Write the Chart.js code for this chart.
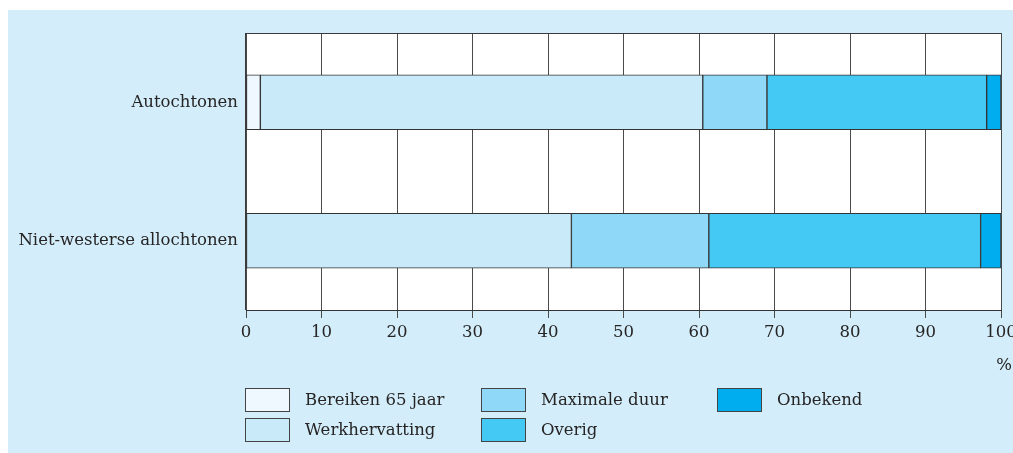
<!DOCTYPE html>
<html>
<head>
<meta charset="utf-8">
<script src="https://cdn.jsdelivr.net/npm/chart.js@4/dist/chart.umd.min.js"></script>
<style>
    html, body { margin: 0; padding: 0; background: #fff; }
    #wrap { width: 1013px; height: 453px; position: relative; }
</style>
</head>
<body>
<div id="wrap"><canvas id="myChart" width="1013" height="453"></canvas></div>
<script>
const categories = ['Autochtonen', 'Niet-westerse allochtonen'];
const seriesNames = ['Bereiken 65 jaar', 'Werkhervatting', 'Maximale duur', 'Overig', 'Onbekend'];
const bereiken = [1.9, 0];
const werkhervatting = [58.6, 43.1];
const maximaleDuur = [8.5, 18.2];
const overig = [29.1, 36.0];
const onbekend = [1.9, 2.7];
const xTicks = [0, 10, 20, 30, 40, 50, 60, 70, 80, 90, 100];

const colors = ['#eef8fe', '#c8eaf9', '#8fd8f7', '#44c8f4', '#00adee'];
const values = [bereiken, werkhervatting, maximaleDuur, overig, onbekend];
const FONT = '"DejaVu Serif", serif';
const TEXT = '#262424';

const panelPlugin = {
    id: 'panel',
    beforeDraw: (chart) => {
        const ctx = chart.ctx;
        const a = chart.chartArea;
        ctx.save();
        ctx.fillStyle = '#fff';
        ctx.fillRect(0, 0, chart.width, chart.height);
        ctx.fillStyle = '#d3eefa';
        ctx.fillRect(8, 10, chart.width - 8, chart.height - 10);
        ctx.fillStyle = '#fff';
        ctx.fillRect(a.left, a.top, a.right - a.left, a.bottom - a.top);
        ctx.restore();
    },
    afterDraw: (chart) => {
        const ctx = chart.ctx;
        const a = chart.chartArea;
        ctx.save();
        // top and left border of the plot
        ctx.strokeStyle = '#3a3a3a';
        ctx.lineWidth = 1;
        ctx.beginPath();
        ctx.moveTo(a.left - 1, a.top + 0.5);
        ctx.lineTo(a.right, a.top + 0.5);
        ctx.stroke();
        ctx.beginPath();
        ctx.moveTo(a.left - 0.5, a.top);
        ctx.lineTo(a.left - 0.5, a.bottom);
        ctx.stroke();

        // percent sign under the axis
        ctx.font = '16.5px ' + FONT;
        ctx.fillStyle = TEXT;
        ctx.textAlign = 'center';
        ctx.textBaseline = 'middle';
        ctx.fillText('%', a.right + 3, 366);

        // legend, filled column by column
        ctx.textAlign = 'left';
        chart.data.datasets.forEach((ds, i) => {
            const col = Math.floor(i / 2);
            const row = i % 2;
            const x = 245 + col * 236;
            const y = 388 + row * 30;
            ctx.fillStyle = ds.backgroundColor;
            ctx.fillRect(x, y, 45, 24);
            ctx.strokeStyle = '#444';
            ctx.strokeRect(x + 0.5, y + 0.5, 44, 23);
            ctx.fillStyle = TEXT;
            ctx.fillText(ds.label, x + 60, y + 13);
        });
        ctx.restore();
    }
};

const ctx = document.getElementById('myChart');
const myChart = new Chart(ctx, {
    type: 'bar',
    data: {
        labels: categories,
        datasets: seriesNames.map((name, i) => ({
            label: name,
            data: values[i],
            backgroundColor: colors[i],
            borderColor: '#333',
            borderWidth: 1,
            borderSkipped: false,
            barThickness: 55
        }))
    },
    options: {
        indexAxis: 'y',
        responsive: false,
        animation: false,
        layout: {
            padding: {top: 33, right: 12, left: 0, bottom: 0}
        },
        plugins: {
            legend: {display: false},
            tooltip: {enabled: false}
        },
        scales: {
            x: {
                stacked: true,
                min: 0,
                max: 100,
                afterBuildTicks: (scale) => {
                    scale.ticks = xTicks.map(v => ({value: v}));
                },
                afterFit: (scale) => {
                    scale.height = 143;
                    scale.paddingLeft = 0;
                    scale.paddingRight = 0;
                },
                grid: {
                    color: '#4a4a4a',
                    lineWidth: 1,
                    tickLength: 8,
                    drawTicks: true
                },
                border: {color: '#333', width: 1},
                ticks: {
                    color: TEXT,
                    font: {family: FONT, size: 16.5},
                    padding: 5,
                    maxRotation: 0
                }
            },
            y: {
                stacked: true,
                afterFit: (scale) => {
                    scale.width = 246;
                },
                grid: {display: false, drawTicks: false},
                border: {display: false},
                ticks: {
                    color: TEXT,
                    font: {family: FONT, size: 16.5},
                    padding: 8
                }
            }
        }
    },
    plugins: [panelPlugin]
});
</script>
</body>
</html>
